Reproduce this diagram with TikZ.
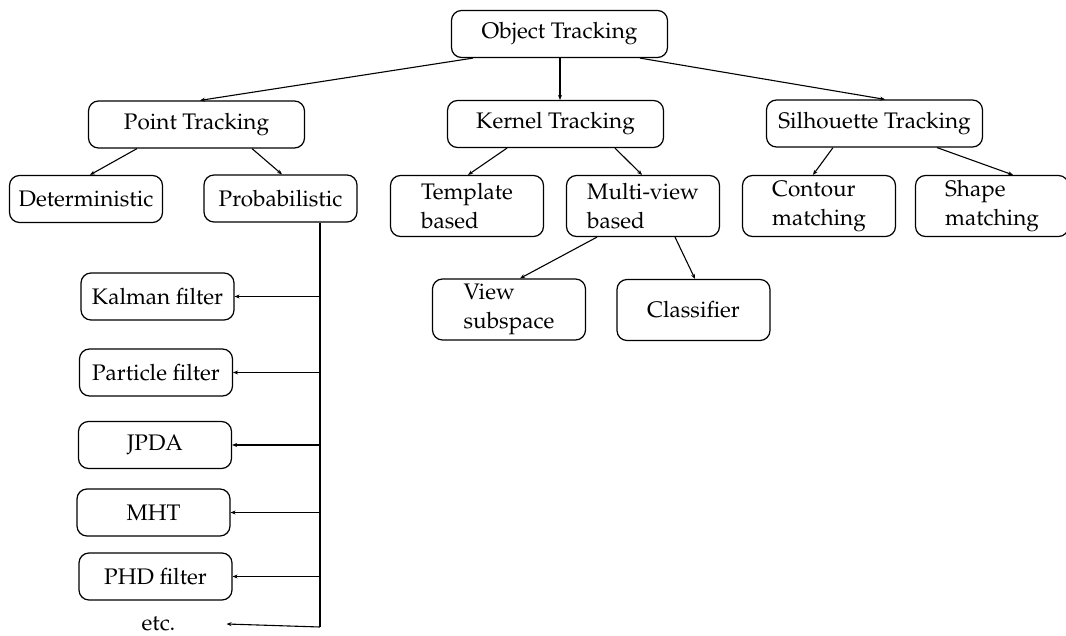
\documentclass[tikz,border=0pt]{standalone}
\usepackage[T1]{fontenc}
\usepackage{mathpazo}
\usetikzlibrary{arrows.meta}
\begin{document}
\begin{tikzpicture}[x=1pt,y=-1pt,
  box/.style={draw,line width=1.2pt,rounded corners=10pt,minimum width=153pt,minimum height=47pt,inner sep=2pt,
    font=\fontsize{22.5}{29}\selectfont,align=left},
  wide/.style={box,minimum width=216pt},
  tall/.style={box,minimum height=61pt},
  arr/.style={line width=1.1pt,-{Stealth[length=5pt,width=4pt]}},
  trunkline/.style={line width=1.1pt}]
\useasboundingbox (0,0) rectangle (1066,636);
% top
\node[wide] (ot) at (559.5,34) {Object Tracking};
\node[wide] (pt) at (196.5,124.5) {Point Tracking};
\node[wide] (kt) at (555.5,124) {Kernel Tracking};
\node[wide] (st) at (874.5,123.5) {Silhouette Tracking};
% second level
\node[box] (det) at (86,199) {Deterministic};
\node[box] (prob) at (280.5,198.5) {Probabilistic};
\node[tall] (tmp) at (467,206) {Template\\based};
\node[tall] (mv) at (643,206) {Multi-view\\based};
\node[tall] (con) at (819,206) {Contour\\matching};
\node[tall] (shp) at (992,206) {Shape\\matching};
% third level
\node[tall] (vs) at (509,309.5) {View\\subspace};
\node[tall] (cls) at (693.5,310) {Classifier};
% probabilistic list
\node[box] (kal) at (157.5,296.5) {Kalman filter};
\node[box] (par) at (156,372.5) {Particle filter};
\node[box] (jpda) at (155,445) {JPDA};
\node[box] (mht) at (153.5,512.5) {MHT};
\node[box] (phd) at (155.5,576.5) {PHD filter};
\node[inner sep=0pt,font=\fontsize{22.5}{29}\selectfont] (etc) at (158.5,624) {etc.};
% connectors
\draw[arr] ([xshift=-86.5pt]ot.south) -- ([xshift=3.5pt]pt.north);
\draw[arr] ([xshift=0.5pt]ot.south) -- ([xshift=4.5pt]kt.north);
\draw[arr] ([xshift=80.5pt]ot.south) -- ([xshift=10.5pt]st.north);
\draw[arr] ([xshift=-59.5pt]pt.south) -- ([xshift=4pt]det.north);
\draw[arr] ([xshift=55.5pt]pt.south) -- ([xshift=1.5pt]prob.north);
\draw[arr] ([xshift=-48.5pt]kt.south) -- ([xshift=1pt]tmp.north);
\draw[arr] ([xshift=59.5pt]kt.south) -- ([xshift=-1pt]mv.north);
\draw[arr] ([xshift=-41.5pt]st.south) -- ([xshift=-6pt]con.north);
\draw[arr] ([xshift=62.5pt]st.south) -- ([xshift=21pt]shp.north);
\draw[arr] ([xshift=-46pt]mv.south) -- ([xshift=11pt]vs.north);
\draw[arr] ([xshift=32pt]mv.south) -- ([xshift=1.5pt]cls.north);
% trunk
\coordinate (trunk) at ([xshift=39.5pt]prob.south);
\coordinate (trunkend) at (320,627);
\draw[trunkline] (trunk) -- (trunkend);
\draw[arr] (trunk |- kal.east) -- (kal.east);
\draw[arr] (trunk |- par.east) -- (par.east);
\draw[arr] (trunk |- jpda.east) -- (jpda.east);
\draw[arr] (trunk |- mht.east) -- (mht.east);
\draw[arr] (trunk |- phd.east) -- (phd.east);
\draw[arr] (trunkend) -- ([xshift=51pt]etc.east);
\end{tikzpicture}
\end{document}
